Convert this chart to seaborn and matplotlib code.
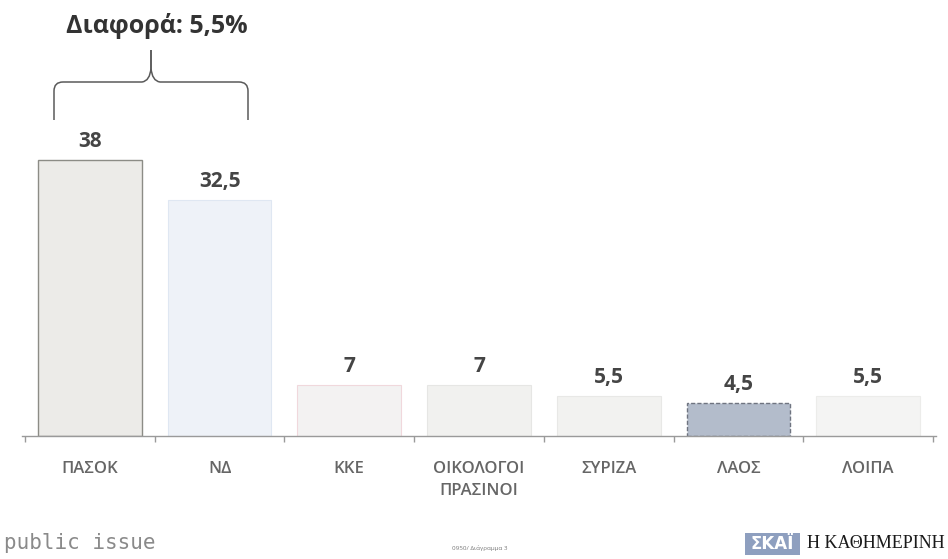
import matplotlib
matplotlib.use("Agg")
import matplotlib.pyplot as plt
import seaborn as sns
import pandas as pd
from matplotlib.path import Path
from matplotlib.patches import PathPatch, Rectangle

categories = ["ΠΑΣΟΚ", "ΝΔ", "ΚΚΕ", "ΟΙΚΟΛΟΓΟΙ\nΠΡΑΣΙΝΟΙ", "ΣΥΡΙΖΑ", "ΛΑΟΣ", "ΛΟΙΠΑ"]
values = [38, 32.5, 7, 7, 5.5, 4.5, 5.5]
value_labels = ["38", "32,5", "7", "7", "5,5", "4,5", "5,5"]
bar_colors = ["#ecebe8", "#eef2f8", "#f3f2f2", "#f1f1ef", "#f2f2f0", "#b3bccb", "#f4f4f3"]
edge_colors = ["#8c8c86", "#dfe7f2", "#f0d8dc", "#e6e6e4", "#e8e8e6", "#6f7480", "#ececea"]
diff_label = "Διαφορά: 5,5%"

sns.set_theme(style="white")
plt.rcParams["font.family"] = ["Open Sans", "DejaVu Sans"]

W, H = 948, 559
fig = plt.figure(figsize=(W / 100, H / 100), dpi=100)
fig.patch.set_facecolor("white")

left_px, right_px = 25, 933
bottom_px = 436
ymax = 50
px_per_unit = 276 / 38
top_px = bottom_px - ymax * px_per_unit
ax = fig.add_axes([left_px / W, (H - bottom_px) / H, (right_px - left_px) / W, (bottom_px - top_px) / H])

df = pd.DataFrame({"cat": categories, "val": values})
sns.barplot(data=df, x="cat", y="val", hue="cat", palette=bar_colors, legend=False,
            width=0.8, ax=ax, saturation=1)
for i, p in enumerate(ax.patches):
    p.set_edgecolor(edge_colors[i])
    p.set_linewidth(1.0 if i in (0, 5) else 0.8)
    if i == 5:
        p.set_linestyle((0, (3, 1.5)))

for i, (v, lab) in enumerate(zip(values, value_labels)):
    ax.annotate(lab, (i, v), xytext=(0, 6), textcoords="offset points",
                ha="center", va="bottom", fontsize=15, fontweight="bold", color="#454545")

ax.set_xlim(-0.5, 6.5)
ax.set_ylim(0, ymax)
ax.set_xlabel("")
ax.set_ylabel("")
ax.set_yticks([])
for s in ["top", "right", "left"]:
    ax.spines[s].set_visible(False)
ax.spines["bottom"].set_color("#9a9a9a")
ax.spines["bottom"].set_linewidth(1.0)
ax.spines["bottom"].set_bounds(-0.52, 6.52)
ax.set_xticks(range(len(categories)))
ax.set_xticklabels(categories, fontsize=12, color="#666666", linespacing=1.5,
                   fontweight="semibold")
ax.tick_params(axis="x", which="major", length=0, pad=18)
ax.set_xticks([i - 0.5 for i in range(len(categories) + 1)], minor=True)
ax.tick_params(axis="x", which="minor", length=4, color="#9a9a9a", direction="out", bottom=True)

ov = fig.add_axes([0, 0, 1, 1], facecolor="none")
ov.set_xlim(0, W)
ov.set_ylim(H, 0)
ov.axis("off")

ov.text(157, 26, diff_label, ha="center", va="center", fontsize=18, fontweight="bold", color="#333333")

# brace
x0, x1, xm = 54, 248, 151
yb, yh, yt = 120, 82, 50
r = 9
codes = [Path.MOVETO, Path.LINETO, Path.CURVE3, Path.CURVE3,
         Path.LINETO, Path.CURVE3, Path.CURVE3, Path.LINETO]
verts = [(x0, yb), (x0, yh + r), (x0, yh), (x0 + r, yh),
         (xm - 9, yh), (xm - 1, yh - 1), (xm, yh - 14), (xm, yt)]
ov.add_patch(PathPatch(Path(verts, codes), fill=False, edgecolor="#5a5a5a", lw=1.1))
verts2 = [(x1, yb), (x1, yh + r), (x1, yh), (x1 - r, yh),
          (xm + 9, yh), (xm + 1, yh - 1), (xm, yh - 14), (xm, yt)]
ov.add_patch(PathPatch(Path(verts2, codes), fill=False, edgecolor="#5a5a5a", lw=1.1))

# footer
ov.text(4, 543, "public issue", ha="left", va="center", fontsize=15, color="#8a8a8a",
        family=["DejaVu Sans Mono"])
ov.text(480, 548, "0950/ Διάγραμμα 3", ha="center", va="center", fontsize=4.5, color="#777777")
ov.add_patch(Rectangle((745, 533), 55, 22, facecolor="#8e9fbf", edgecolor="none"))
ov.text(772, 544, "ΣΚΑΪ", ha="center", va="center", fontsize=12, fontweight="bold",
        color="white", family=["DejaVu Sans"])
ov.text(945, 544, "Η ΚΑΘΗΜΕΡΙΝΗ", ha="right", va="center", fontsize=13, color="#1a1a1a",
        family=["Liberation Serif", "DejaVu Serif"], fontstretch="condensed")

fig.savefig("out.png", dpi=100)
